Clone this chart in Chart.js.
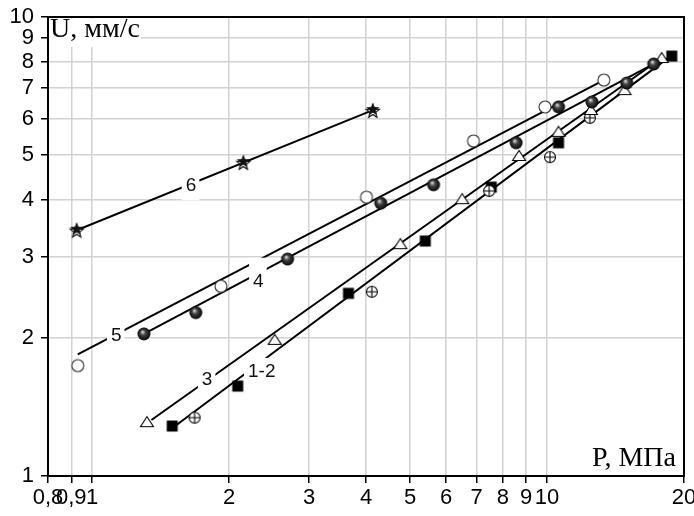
<!DOCTYPE html>
<html>
<head>
<meta charset="utf-8">
<script src="https://cdn.jsdelivr.net/npm/chart.js@4.4.1/dist/chart.umd.min.js"></script>
<style>
  html, body { margin: 0; padding: 0; background: #fff; }
  #wrap { width: 694px; height: 516px; }
</style>
</head>
<body>
<div id="wrap"><canvas id="chart" width="694" height="516"></canvas></div>
<script>
// Оси: P, МПа (X) и U, мм/с (Y), обе логарифмические
const xTicks = [0.8, 0.9, 1, 2, 3, 4, 5, 6, 7, 8, 9, 10, 20];
const yTicks = [1, 2, 3, 4, 5, 6, 7, 8, 9, 10];

// 1 - чёрные квадраты
const s1P = [1.50, 2.09, 3.66, 5.40, 7.54, 10.6, 18.8];
const s1U = [1.285, 1.57, 2.50, 3.25, 4.26, 5.32, 8.22];
// 2 - круги с крестом
const s2P = [1.68, 4.12, 7.46, 10.15, 12.42];
const s2U = [1.34, 2.52, 4.18, 4.95, 6.03];
// 3 - треугольники
const s3P = [1.32, 2.52, 4.76, 6.51, 8.68, 10.6, 12.49, 14.8, 17.86];
const s3U = [1.31, 1.98, 3.20, 4.01, 4.98, 5.62, 6.27, 6.93, 8.14];
// 4 - шарики
const s4P = [1.30, 1.69, 2.69, 4.31, 5.63, 8.55, 10.6, 12.55, 14.97, 17.16];
const s4U = [2.04, 2.27, 2.97, 3.93, 4.31, 5.32, 6.37, 6.53, 7.18, 7.90];
// 5 - светлые кружки
const s5P = [0.93, 1.92, 4.01, 6.89, 9.90, 13.33];
const s5U = [1.74, 2.59, 4.05, 5.37, 6.37, 7.29];
// 6 - звёздочки
const s6P = [0.925, 2.15, 4.14];
const s6U = [3.44, 4.83, 6.27];

// аппроксимирующие прямые: начало и конец
const fit12P = [1.53, 18.97], fit12U = [1.29, 8.31];
const fit3P = [1.35, 17.86], fit3U = [1.324, 8.14];
const fit4P = [1.30, 17.5], fit4U = [2.04, 7.98];
const fit5P = [0.93, 13.2], fit5U = [1.84, 7.25];
const fit6P = [0.925, 4.14], fit6U = [3.43, 6.27];

// подписи прямых
const lineNames = ['1-2', '3', '4', '5', '6'];
const labelP = [2.36, 1.79, 2.32, 1.13, 1.65];
const labelU = [1.686, 1.62, 2.65, 2.02, 4.28];

const pts = (xs, ys) => xs.map((v, i) => ({ x: v, y: ys[i] }));

// значки точек рисуем на отдельных канвасах
function marker(kind) {
    const s = 18, m = s / 2;
    const c = document.createElement('canvas');
    c.width = s; c.height = s;
    const g = c.getContext('2d');
    g.lineWidth = 1.1;
    g.strokeStyle = '#000';
    if (kind === 'square') {
        g.fillStyle = '#000';
        g.fillRect(m - 5.5, m - 5.5, 11, 11);
    } else if (kind === 'cross') {
        g.beginPath(); g.arc(m, m, 5.5, 0, Math.PI * 2);
        g.fillStyle = '#fff'; g.fill(); g.stroke();
        g.beginPath();
        g.moveTo(m - 5.5, m); g.lineTo(m + 5.5, m);
        g.moveTo(m, m - 5.5); g.lineTo(m, m + 5.5);
        g.stroke();
    } else if (kind === 'tri') {
        g.beginPath();
        g.moveTo(m, m - 5.5); g.lineTo(m + 6.5, m + 4.5); g.lineTo(m - 6.5, m + 4.5);
        g.closePath();
        g.fillStyle = '#fff'; g.fill(); g.stroke();
    } else if (kind === 'ball') {
        const gr = g.createRadialGradient(m - 1.5, m - 2, 0.5, m, m, 6.8);
        gr.addColorStop(0, '#d0d0d0');
        gr.addColorStop(0.35, '#444');
        gr.addColorStop(1, '#000');
        g.beginPath(); g.arc(m, m, 6.5, 0, Math.PI * 2);
        g.fillStyle = gr; g.fill();
    } else if (kind === 'ring') {
        g.beginPath(); g.arc(m, m, 6, 0, Math.PI * 2);
        g.fillStyle = '#fff'; g.fill();
        g.strokeStyle = '#333'; g.stroke();
    } else if (kind === 'star') {
        const star = (cx, cy, R, r) => {
            g.beginPath();
            for (let k = 0; k < 10; k++) {
                const a = -Math.PI / 2 + k * Math.PI / 5;
                const rr = k % 2 ? r : R;
                g.lineTo(cx + rr * Math.cos(a), cy + rr * Math.sin(a));
            }
            g.closePath();
        };
        star(m, m + 1.5, 7, 3);
        g.fillStyle = '#fff'; g.fill(); g.stroke();
        star(m, m - 0.5, 7, 3);
        g.fillStyle = '#111'; g.fill();
    }
    return c;
}

function scatterSet(xs, ys, kind) {
    return {
        data: pts(xs, ys),
        pointStyle: marker(kind),
        pointRadius: 7,
        showLine: false,
        order: 1
    };
}

function fitSet(xs, ys) {
    return {
        data: pts(xs, ys),
        showLine: true,
        borderColor: '#000',
        borderWidth: 2,
        pointRadius: 0,
        order: 2
    };
}

const decor = {
    id: 'decor',
    afterDatasetsDraw(chart) {
        const { ctx, chartArea: a, scales: { x, y } } = chart;
        ctx.save();

        // номера прямых на белой подложке (у "4" подложка выше и перекрывает соседнюю прямую)
        ctx.font = '19px "Liberation Sans", Arial, sans-serif';
        ctx.textAlign = 'center';
        ctx.textBaseline = 'middle';
        lineNames.forEach((t, i) => {
            const px = x.getPixelForValue(labelP[i]);
            const py = y.getPixelForValue(labelU[i]);
            const w = ctx.measureText(t).width;
            const up = t === '4' ? 24 : 14;
            ctx.fillStyle = '#fff';
            ctx.fillRect(px - w / 2 - 4, py - up, w + 7, up + 14);
            ctx.fillStyle = '#111';
            ctx.fillText(t, px, py);
        });

        // подписи осей внутри поля графика
        ctx.font = '28px "Liberation Serif", "Times New Roman", serif';
        ctx.textBaseline = 'alphabetic';
        ctx.textAlign = 'left';
        const tU = 'U, мм/с';
        let w = ctx.measureText(tU).width;
        ctx.fillStyle = '#fff';
        ctx.fillRect(a.left + 1, a.top + 2, w + 2, 28);
        ctx.fillStyle = '#000';
        ctx.fillText(tU, a.left + 2, a.top + 20);

        ctx.textAlign = 'right';
        const tP = 'P, МПа';
        w = ctx.measureText(tP).width;
        ctx.fillStyle = '#fff';
        ctx.fillRect(a.right - 9 - w, a.bottom - 36, w + 2, 30);
        ctx.fillStyle = '#000';
        ctx.fillText(tP, a.right - 8, a.bottom - 10);

        // рамка
        ctx.strokeStyle = '#000';
        ctx.lineWidth = 2;
        ctx.strokeRect(a.left, a.top, a.right - a.left, a.bottom - a.top);
        ctx.restore();
    }
};

const tickFont = { family: '"Liberation Sans", Arial, sans-serif', size: 22 };

new Chart(document.getElementById('chart'), {
    type: 'scatter',
    data: {
        datasets: [
            scatterSet(s6P, s6U, 'star'),
            scatterSet(s5P, s5U, 'ring'),
            scatterSet(s4P, s4U, 'ball'),
            scatterSet(s3P, s3U, 'tri'),
            scatterSet(s2P, s2U, 'cross'),
            scatterSet(s1P, s1U, 'square'),
            fitSet(fit6P, fit6U),
            fitSet(fit5P, fit5U),
            fitSet(fit4P, fit4U),
            fitSet(fit3P, fit3U),
            fitSet(fit12P, fit12U)
        ]
    },
    options: {
        responsive: false,
        animation: false,
        layout: { padding: { left: 0, top: 17, right: 10, bottom: 0 } },
        plugins: {
            legend: { display: false },
            tooltip: { enabled: false }
        },
        scales: {
            x: {
                type: 'logarithmic',
                min: 0.8,
                max: 20,
                afterBuildTicks: s => { s.ticks = xTicks.map(v => ({ value: v })); },
                afterFit: s => { s.height = 40; s.paddingLeft = 0; s.paddingRight = 0; },
                ticks: {
                    autoSkip: false,
                    maxRotation: 0,
                    padding: 2,
                    color: '#000',
                    font: tickFont,
                    callback: v => String(v).replace('.', ',')
                },
                grid: {
                    color: '#d2d2d2',
                    lineWidth: 1.5,
                    tickColor: '#000',
                    tickWidth: 1.5,
                    tickLength: 7
                },
                border: { color: '#000', width: 2 }
            },
            y: {
                type: 'logarithmic',
                min: 1,
                max: 10,
                afterBuildTicks: s => { s.ticks = yTicks.map(v => ({ value: v })); },
                afterFit: s => { s.width = 48; s.paddingTop = 0; s.paddingBottom = 0; },
                ticks: {
                    autoSkip: false,
                    padding: 7,
                    color: '#000',
                    font: tickFont,
                    callback: v => String(v)
                },
                grid: {
                    color: '#d2d2d2',
                    lineWidth: 1.5,
                    tickColor: '#000',
                    tickWidth: 1.5,
                    tickLength: 7
                },
                border: { color: '#000', width: 2 }
            }
        }
    },
    plugins: [decor]
});
</script>
</body>
</html>
